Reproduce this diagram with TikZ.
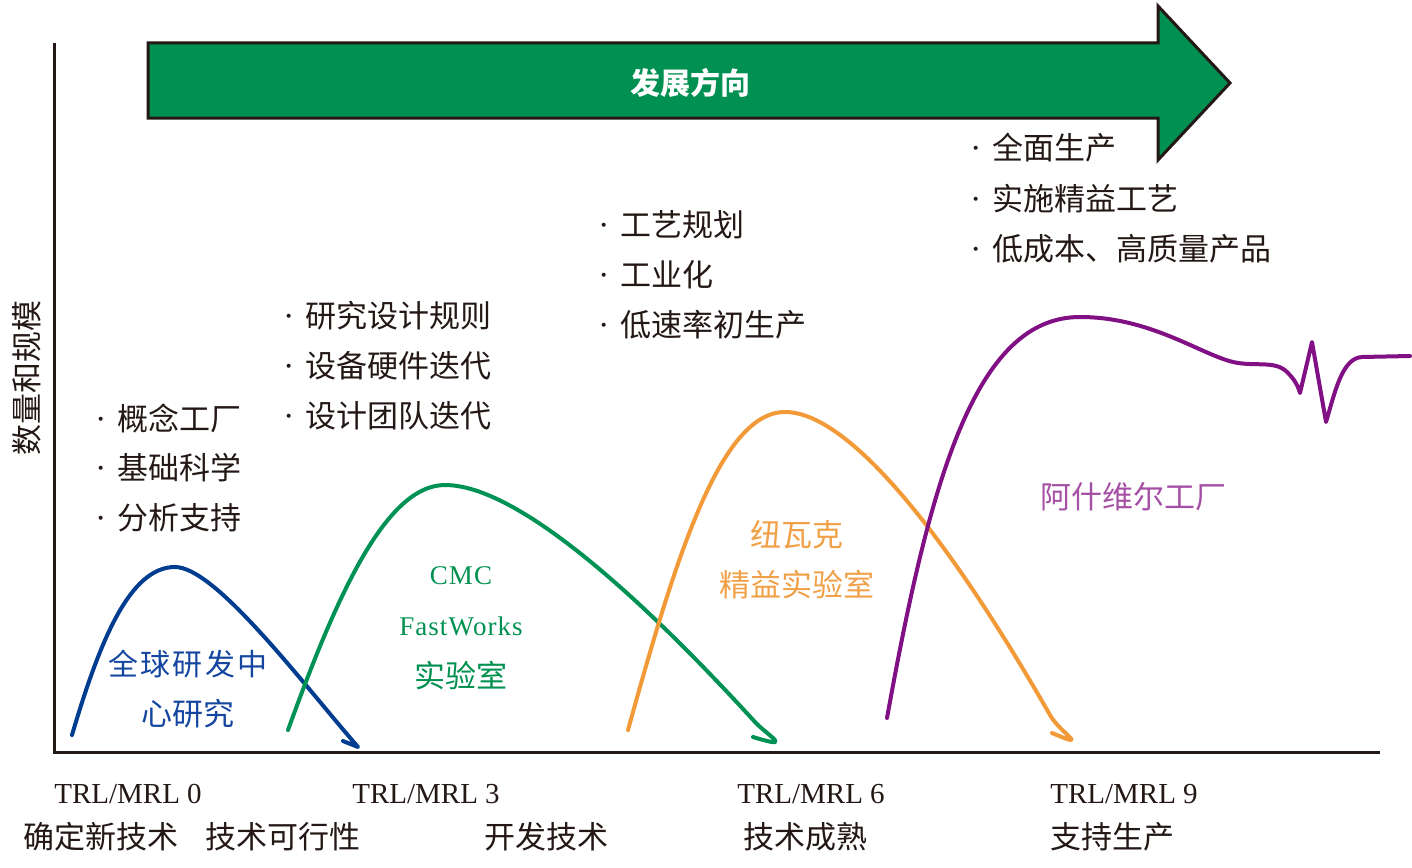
\documentclass[tikz,border=0pt]{standalone}
\usepackage{fontspec}
\setmainfont{Liberation Serif}
\newfontfamily\cjk{Noto Sans CJK SC}
\newfontfamily\latn{Liberation Serif}
\definecolor{ink}{RGB}{35,24,21}
\definecolor{arrowgreen}{RGB}{0,144,81}
\definecolor{cblue}{RGB}{0,61,145}
\definecolor{cgreen}{RGB}{0,145,85}
\definecolor{corange}{RGB}{242,154,56}
\definecolor{cpurple}{RGB}{128,16,132}
\definecolor{tblue}{RGB}{20,70,160}
\definecolor{tgreen}{RGB}{0,145,80}
\definecolor{torange}{RGB}{240,160,70}
\definecolor{tpurple}{RGB}{165,80,165}
\tikzset{
  cn/.style={font=\cjk\fontsize{31}{31}\selectfont, inner sep=0pt, text=ink},
  bl/.style={cn, anchor=west},
  lat/.style={font=\fontsize{29}{29}\selectfont, inner sep=0pt, text=ink},
  curve/.style={line width=4pt, line join=round, line cap=round},
  axis/.style={line width=3pt, draw=ink},
}
\newcommand{\bul}{\makebox[22pt][l]{{\latn\fontsize{34}{34}\selectfont ·}}}
\begin{document}
\begin{tikzpicture}[x=1pt,y=-1pt]
\useasboundingbox (0,0) rectangle (1412,867);
% axes
\coordinate (ytop) at (54,43);
\coordinate (orig) at (54,752);
\coordinate (xend) at (1380,752);
\draw[axis] (ytop) -- (orig) -- (xend);
% big arrow
\draw[fill=arrowgreen, draw=ink, line width=3pt, line join=miter]
  (148,43) -- (1158,43) -- (1158,6) -- (1230,83) -- (1158,160) -- (1158,118) -- (148,118) -- cycle;
\node[cn, text=white, font=\cjk\bfseries\fontsize{30}{30}\selectfont] (dir) at (690,83) {发展方向};
% y label
\node[cn, rotate=90] (ylab) at (27,378) {数量和规模};
% curves
\draw[curve, cblue] (72,735) .. controls (100,640) and (130,567) .. (175,567)
  .. controls (215,567) and (300,680) .. (358,747) -- (343,741);
\draw[curve, cgreen] (288,730) .. controls (335,600) and (385,485) .. (445,485)
  .. controls (530,485) and (680,640) .. (755,722)
  .. controls (768,736) and (795,750) .. (753,737);
\draw[curve, corange] (628,730) .. controls (675,560) and (720,412) .. (785,412)
  .. controls (850,412) and (950,540) .. (1050,715)
  .. controls (1060,733) and (1092,750) .. (1052,733);
\draw[curve, cpurple] (887,718) .. controls (930,480) and (975,317) .. (1080,317)
  .. controls (1150,317) and (1200,354) .. (1233,362)
  .. controls (1255,367) and (1275,360) .. (1287,372)
  .. controls (1295,380) and (1298,386) .. (1300,393) -- (1312,342) -- (1326,422)
  .. controls (1335,392) and (1342,358) .. (1362,357) -- (1410,356);
% bullet lists
\node[bl] (a1) at (95,418) {\bul 概念工厂};
\node[bl] (a2) at (95,468) {\bul 基础科学};
\node[bl] (a3) at (95,518) {\bul 分析支持};
\node[bl] (b1) at (283,316) {\bul 研究设计规则};
\node[bl] (b2) at (283,366) {\bul 设备硬件迭代};
\node[bl] (b3) at (283,416) {\bul 设计团队迭代};
\node[bl] (c1) at (598,225) {\bul 工艺规划};
\node[bl] (c2) at (598,275) {\bul 工业化};
\node[bl] (c3) at (598,325) {\bul 低速率初生产};
\node[bl] (d1) at (970,148) {\bul 全面生产};
\node[bl] (d2) at (970,199) {\bul 实施精益工艺};
\node[bl] (d3) at (970,249) {\bul 低成本、高质量产品};
% curve labels
\node[cn, text=tblue, font=\cjk\fontsize{30}{30}\selectfont\addfontfeature{LetterSpace=8}] (g1) at (188,664) {全球研发中};
\node[cn, text=tblue] (g2) at (188,714) {心研究};
\node[lat, text=tgreen, font=\fontsize{27}{27}\selectfont\addfontfeature{LetterSpace=4}] (f1) at (461,576) {CMC};
\node[lat, text=tgreen, font=\fontsize{27}{27}\selectfont\addfontfeature{LetterSpace=4}] (f2) at (461,626) {FastWorks};
\node[cn, text=tgreen] (f3) at (461,676) {实验室};
\node[cn, text=torange] (n1) at (797,535) {纽瓦克};
\node[cn, text=torange] (n2) at (797,585) {精益实验室};
\node[cn, text=tpurple] (p1) at (1133,497) {阿什维尔工厂};
% bottom labels
\node[lat] (t0) at (128,794) {TRL/MRL 0};
\node[lat] (t3) at (426,794) {TRL/MRL 3};
\node[lat] (t6) at (811,794) {TRL/MRL 6};
\node[lat] (t9) at (1124,794) {TRL/MRL 9};
\node[cn] (s0) at (101,837) {确定新技术};
\node[cn] (s1) at (283,837) {技术可行性};
\node[cn] (s2) at (546,837) {开发技术};
\node[cn] (s3) at (805,837) {技术成熟};
\node[cn] (s4) at (1112,837) {支持生产};
\end{tikzpicture}
\end{document}
